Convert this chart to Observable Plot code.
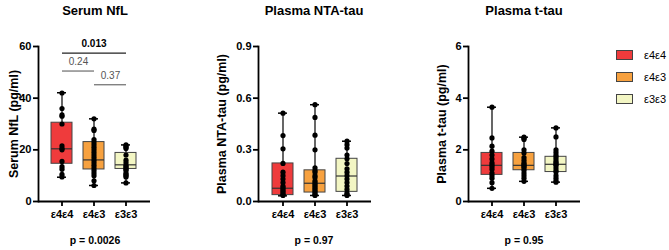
<!DOCTYPE html>
<html><head><meta charset="utf-8">
<script src="https://cdn.jsdelivr.net/npm/d3@7"></script>
<script src="https://cdn.jsdelivr.net/npm/@observablehq/plot@0.6"></script>
<style>
body{margin:0;background:#fff;}
#chart{position:relative;width:669px;height:250px;font-family:"Liberation Sans",Arial,sans-serif;color:#000;overflow:hidden}
.panel{position:absolute;top:0;}
.title{position:absolute;top:3px;font-weight:bold;font-size:13px;transform:translateX(-50%);white-space:nowrap}
.pval{position:absolute;top:234px;font-weight:bold;font-size:10.5px;transform:translateX(-50%);white-space:nowrap}
.ylab{position:absolute;top:124px;font-weight:bold;font-size:12.5px;white-space:nowrap;transform:translate(-50%,-50%) rotate(-90deg)}
.leg{position:absolute;left:616px;font-size:11px;display:flex;align-items:center;height:14px;white-space:nowrap}
.leg span.sw{display:inline-block;width:15px;height:8px;border:1px solid #444;margin-right:11px}
</style></head>
<body><div id="chart"></div>
<script>
const groups = ["ε4ε4", "ε4ε3", "ε3ε3"];
const groupColors = ["#EF3B3C", "#F7A13F", "#F3F6C4"];
const panelTitles = ["Serum NfL", "Plasma NTA-tau", "Plasma t-tau"];
const yLabels = ["Serum NfL (pg/ml)", "Plasma NTA-tau (pg/ml)", "Plasma t-tau (pg/ml)"];
const pValues = ["p = 0.0026", "p = 0.97", "p = 0.95"];

// Serum NfL
const nflE4E4 = [42, 36, 33.5, 33, 30, 21.5, 20.5, 20, 15.5, 13.5, 12.5, 10.5, 9.5];
const nflE4E3 = [32, 28, 27.5, 24, 23, 22, 21, 20, 19, 18, 17, 16, 15, 14, 13, 12, 11, 10, 8, 6.2];
const nflE3E3 = [21.9, 21.5, 21, 20.5, 18, 16, 15, 14, 13.5, 13, 12.5, 12, 11, 10.5, 10, 9.5, 7.2];
const nflMin = [9.4, 6.2, 7.2];
const nflQ1 = [14.6, 12.4, 12.6];
const nflMedian = [20.4, 16.1, 14.2];
const nflQ3 = [30.5, 23, 18.8];
const nflMax = [42.1, 32, 21.9];
const nflTicks = [0, 20, 40, 60];
const nflComparisons = [
  {from: "ε4ε4", to: "ε3ε3", y: 57.4, label: "0.013", ly: 60.9, bold: true},
  {from: "ε4ε4", to: "ε4ε3", y: 50.5, label: "0.24", ly: 53.9, bold: false},
  {from: "ε4ε3", to: "ε3ε3", y: 45.2, label: "0.37", ly: 48.8, bold: false}
];

// Plasma NTA-tau
const ntaE4E4 = [0.513, 0.383, 0.306, 0.221, 0.17, 0.15, 0.13, 0.11, 0.09, 0.08, 0.07, 0.06, 0.05, 0.04, 0.035];
const ntaE4E3 = [0.562, 0.488, 0.385, 0.3, 0.196, 0.18, 0.17, 0.15, 0.14, 0.12, 0.11, 0.1, 0.09, 0.08, 0.07, 0.06, 0.05, 0.04, 0.035];
const ntaE3E3 = [0.35, 0.33, 0.31, 0.27, 0.248, 0.22, 0.19, 0.17, 0.15, 0.13, 0.11, 0.09, 0.07, 0.05, 0.04, 0.035];
const ntaMin = [0.033, 0.035, 0.035];
const ntaQ1 = [0.037, 0.052, 0.056];
const ntaMedian = [0.077, 0.106, 0.148];
const ntaQ3 = [0.221, 0.181, 0.248];
const ntaMax = [0.513, 0.562, 0.35];
const ntaTicks = [0, 0.3, 0.6, 0.9];

// Plasma t-tau
const ttauE4E4 = [3.65, 2.46, 2.14, 1.95, 1.8, 1.65, 1.5, 1.42, 1.35, 1.25, 1.1, 1.0, 0.9, 0.73, 0.51];
const ttauE4E3 = [2.49, 2.45, 2.4, 2.0, 1.88, 1.7, 1.6, 1.5, 1.45, 1.4, 1.35, 1.3, 1.21, 1.1, 1.0, 0.9, 0.78];
const ttauE3E3 = [2.85, 2.5, 2.0, 1.9, 1.8, 1.73, 1.65, 1.55, 1.5, 1.44, 1.4, 1.3, 1.2, 1.14, 1.0, 0.9, 0.8, 0.75];
const ttauMin = [0.51, 0.78, 0.75];
const ttauQ1 = [1.03, 1.21, 1.14];
const ttauMedian = [1.4, 1.4, 1.44];
const ttauQ3 = [1.88, 1.88, 1.73];
const ttauMax = [3.65, 2.49, 2.85];
const ttauTicks = [0, 2, 4, 6];

function points(arrs) {
  return arrs.flatMap((a, i) => a.map(v => ({group: groups[i], value: v})));
}
function stats(mn, q1, md, q3, mx) {
  return groups.map((g, i) => ({group: g, min: mn[i], q1: q1[i], median: md[i], q3: q3[i], max: mx[i]}));
}

const panels = [
  {pts: points([nflE4E4, nflE4E3, nflE3E3]), st: stats(nflMin, nflQ1, nflMedian, nflQ3, nflMax), ticks: nflTicks, fmt: d => d, left: 0, width: 160, ml: 38, mr: 10, labX: 14, center: 95, comps: nflComparisons},
  {pts: points([ntaE4E4, ntaE4E3, ntaE3E3]), st: stats(ntaMin, ntaQ1, ntaMedian, ntaQ3, ntaMax), ticks: ntaTicks, fmt: d3.format(".1f"), left: 180, width: 200, ml: 78, mr: 9, labX: 222, center: 314, comps: []},
  {pts: points([ttauE4E4, ttauE4E3, ttauE3E3]), st: stats(ttauMin, ttauQ1, ttauMedian, ttauQ3, ttauMax), ticks: ttauTicks, fmt: d => d, left: 390, width: 200, ml: 78, mr: 10, labX: 442, center: 524, comps: []}
];

const chart = document.getElementById("chart");
const hasAxisMarks = typeof Plot.axisY === "function";
panels.forEach((p, k) => {
  const marks = [];
  if (hasAxisMarks) {
    marks.push(Plot.axisY({ticks: p.ticks, tickFormat: p.fmt, tickSize: 5, tickPadding: 2, stroke: "#000", strokeWidth: 1.8, fill: "#000", fontSize: 11, fontWeight: "bold", label: null}));
    marks.push(Plot.axisX({tickSize: 5, tickPadding: 4, stroke: "#000", strokeWidth: 1.8, fill: "#000", fontSize: 11, fontWeight: "bold", label: null}));
    marks.push(Plot.frame({anchor: "left", stroke: "#000", strokeWidth: 1.8}));
    marks.push(Plot.ruleY([p.ticks[0]], {stroke: "#000", strokeWidth: 1.8}));
  }
  marks.push(
    Plot.ruleX(p.st, {x: "group", y1: "min", y2: "max", stroke: "#000", strokeWidth: 1.2}),
    Plot.tickY(p.st, {x: "group", y: "min", stroke: "#000", strokeWidth: 1.5, insetLeft: 6, insetRight: 6}),
    Plot.tickY(p.st, {x: "group", y: "max", stroke: "#000", strokeWidth: 1.5, insetLeft: 6, insetRight: 6}),
    Plot.barY(p.st, {x: "group", y1: "q1", y2: "q3", fill: "group", stroke: "#444", strokeWidth: 1}),
    Plot.tickY(p.st, {x: "group", y: "median", stroke: "#333", strokeWidth: 1.2}),
    Plot.dot(p.pts, {x: "group", y: "value", r: 2.6, fill: "#000", stroke: "none"})
  );
  if (p.comps.length) {
    const strong = p.comps.filter(d => d.bold), weak = p.comps.filter(d => !d.bold);
    marks.push(Plot.link(strong, {x1: "from", x2: "to", y1: "y", y2: "y", stroke: "#222", strokeWidth: 1.3}));
    marks.push(Plot.link(weak, {x1: "from", x2: "to", y1: "y", y2: "y", stroke: "#777", strokeWidth: 1.3}));
    marks.push(Plot.text(strong, {x: () => "ε4ε3", y: "ly", text: "label", fontSize: 10, fontWeight: "bold", fill: "#000"}));
    marks.push(Plot.text(weak, {x: "from", y: "ly", text: "label", dx: 16.5, fontSize: 10, fontWeight: "normal", fill: "#555"}));
  }
  const svg = Plot.plot({
    width: p.width, height: 250,
    marginLeft: p.ml, marginRight: p.mr, marginTop: 46, marginBottom: 49,
    style: {fontFamily: "'Liberation Sans', Arial, sans-serif", fontSize: "11px", fontWeight: "bold", background: "transparent", color: "#000"},
    x: {domain: groups, paddingInner: 0.33, paddingOuter: 0.38, label: null, tickSize: 5, tickPadding: 4, line: true},
    y: {domain: [p.ticks[0], p.ticks[3]], ticks: p.ticks, tickFormat: p.fmt, tickSize: 5, tickPadding: 2, line: true, label: null},
    color: {domain: groups, range: groupColors},
    marks
  });
  svg.classList.add("panel");
  svg.style.left = p.left + "px";
  chart.appendChild(svg);
  const t = document.createElement("div"); t.className = "title"; t.style.left = p.center + "px"; t.textContent = panelTitles[k]; chart.appendChild(t);
  const pv = document.createElement("div"); pv.className = "pval"; pv.style.left = p.center + "px"; pv.textContent = pValues[k]; chart.appendChild(pv);
  const yl = document.createElement("div"); yl.className = "ylab"; yl.style.left = p.labX + "px"; yl.textContent = yLabels[k]; chart.appendChild(yl);
});
groups.forEach((g, i) => {
  const row = document.createElement("div"); row.className = "leg"; row.style.top = (48 + i * 22) + "px";
  const sw = document.createElement("span"); sw.className = "sw"; sw.style.background = groupColors[i];
  row.appendChild(sw); row.appendChild(document.createTextNode(g));
  chart.appendChild(row);
});
</script></body></html>
